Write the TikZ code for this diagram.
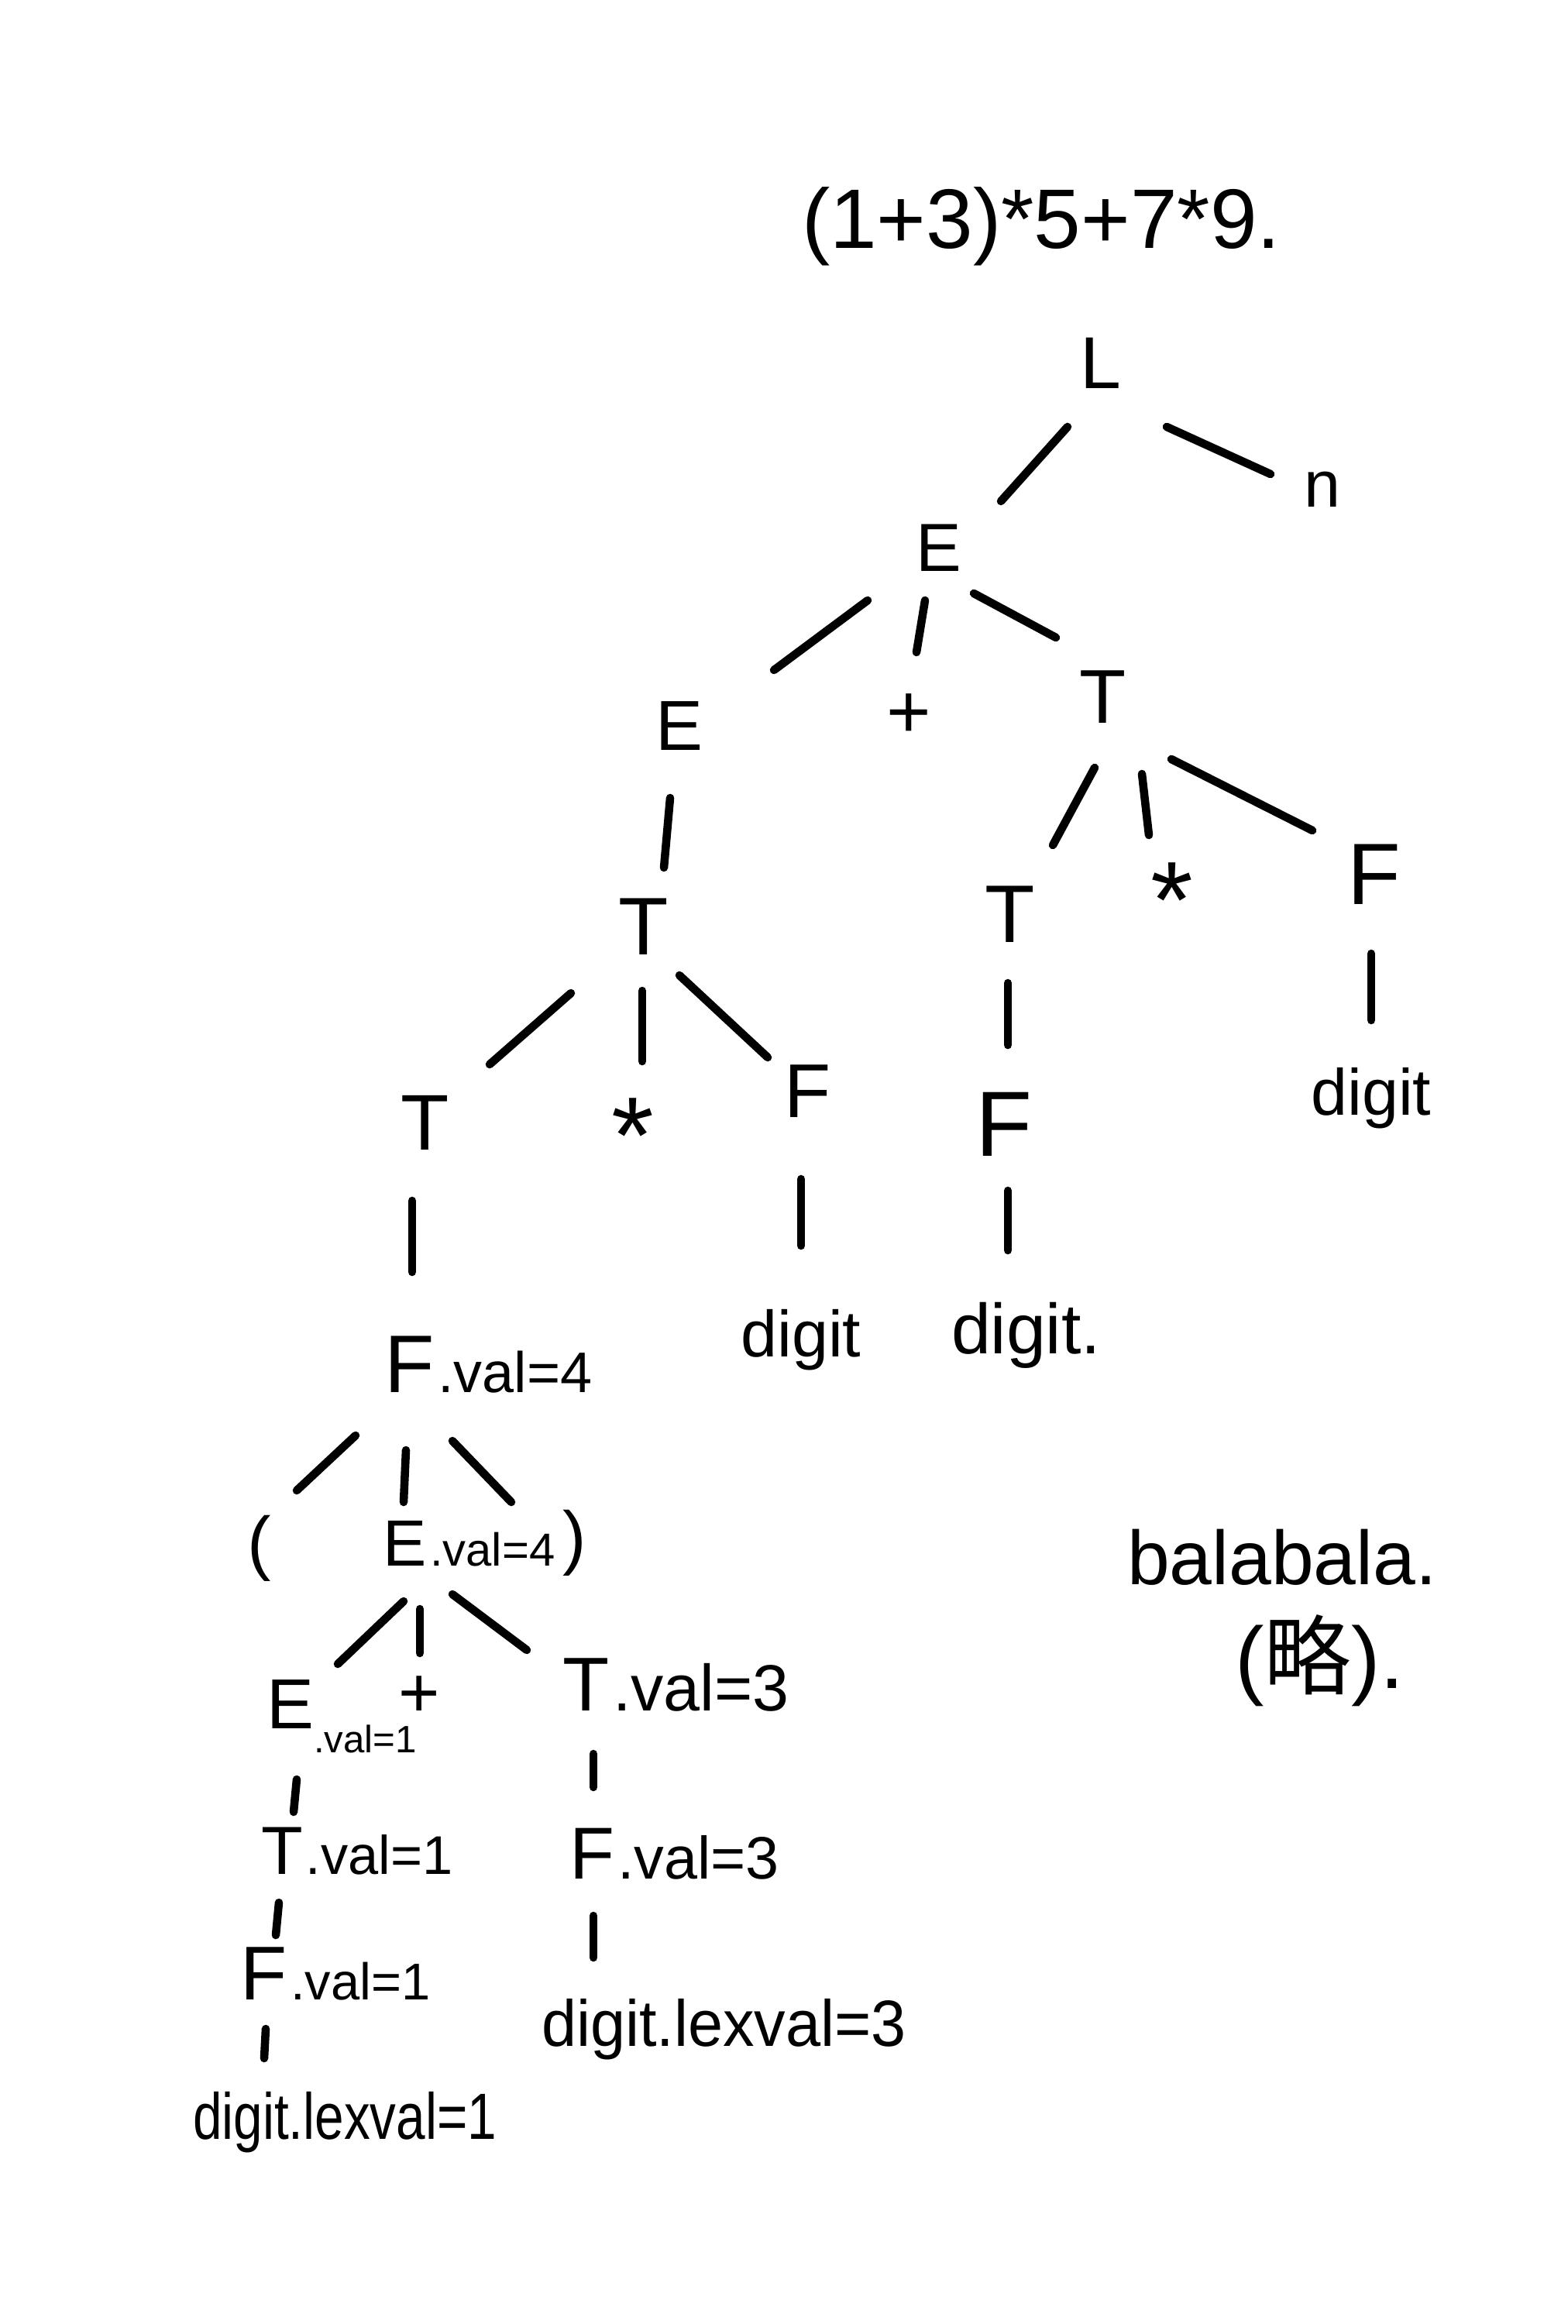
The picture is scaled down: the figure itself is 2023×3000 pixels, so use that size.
\documentclass[tikz,border=0pt]{standalone}
\usepackage{fontspec}
\setmainfont{Liberation Sans}
\newfontfamily\cjk{Noto Sans CJK SC}
\usetikzlibrary{calc}
\newcommand{\fsz}[1]{\fontsize{#1}{#1}\selectfont}
\begin{document}
\begin{tikzpicture}[x=0.01cm,y=-0.01cm,
  lbl/.style={inner sep=0pt, outer sep=0pt},
  annot/.style={inner sep=0pt, outer sep=0pt, anchor=base west},
  edge/.style={line width=3pt, line cap=round}]
\fill[white] (0,0) rectangle (2023,3000);
\useasboundingbox (0,0) rectangle (2023,3000);
% title
\node[lbl, anchor=west, font=\fsz{31}] (title) at (1035,292) {(1+3)*5+7*9.};
% tree nodes
\node[lbl, font=\fsz{27}] (L) at (1421,469) {L};
\node[lbl, font=\fsz{24}] (n) at (1707,632) {n};
\node[lbl, font=\fsz{25}] (E1) at (1212,707) {E};
\node[lbl, font=\fsz{26}] (E2) at (877,937) {E};
\node[lbl, font=\fsz{28}] (plus1) at (1173,924) {+};
\node[lbl, font=\fsz{28}] (T1) at (1424,900) {T};
\node[lbl, font=\fsz{30}] (T2) at (831,1196) {T};
\node[lbl, font=\fsz{30}] (T3) at (1304,1180) {T};
\node[lbl, font=\fsz{40}] (star1) at (1513,1162) {*};
\node[lbl, font=\fsz{32}] (F1) at (1774,1129) {F};
\node[lbl, font=\fsz{29}] (T4) at (549,1449) {T};
\node[lbl, font=\fsz{40}] (star2) at (817,1466) {*};
\node[lbl, font=\fsz{28}] (F2) at (1043,1409) {F};
\node[lbl, font=\fsz{34}] (F3) at (1296,1451) {F};
\node[lbl, font=\fsz{24}] (dg1) at (1770,1418) {digit};
\node[lbl, font=\fsz{30}] (Fv4) at (529,1761) {F};
\node[annot, font=\fsz{21}] (Fv4a) at ($(Fv4.base east)+(4,0)$) {.val=4};
\node[lbl, font=\fsz{24}] (dg2) at (1034,1730) {digit};
\node[lbl, font=\fsz{26}, anchor=west] (dg3) at (1228,1724) {digit.};
\node[lbl, font=\fsz{26}] (lp) at (335,1999) {(};
\node[lbl, font=\fsz{24}] (Ev4) at (523,1992) {E};
\node[annot, font=\fsz{17}] (Ev4a) at ($(Ev4.base east)+(4,0)$) {.val=4};
\node[lbl, font=\fsz{26}] (rp) at (742,1992) {)};
\node[lbl, font=\fsz{26}] (Ev1) at (375,2200) {E};
\node[annot, font=\fsz{14}] (Ev1a) at (405,2262) {.val=1};
\node[lbl, font=\fsz{26}] (plus2) at (541,2190) {+};
\node[lbl, font=\fsz{28}] (Tv3) at (757,2175) {T};
\node[annot, font=\fsz{24}] (Tv3a) at ($(Tv3.base east)+(4,0)$) {.val=3};
\node[lbl, font=\fsz{25}] (Tv1) at (364,2389) {T};
\node[annot, font=\fsz{20}] (Tv1a) at ($(Tv1.base east)+(4,0)$) {.val=1};
\node[lbl, font=\fsz{27}] (Fv3) at (764,2393) {F};
\node[annot, font=\fsz{22}] (Fv3a) at ($(Fv3.base east)+(4,0)$) {.val=3};
\node[lbl, font=\fsz{28}] (Fv1) at (341,2548) {F};
\node[annot, font=\fsz{19}] (Fv1a) at ($(Fv1.base east)+(4,0)$) {.val=1};
\node[lbl, font=\fsz{24}, anchor=west] (dl3) at (699,2620) {\scalebox{0.96}[1]{digit.lexval=3}};
\node[lbl, font=\fsz{24}, anchor=west] (dl1) at (249,2740) {\scalebox{0.8}[1]{digit.lexval=1}};
% side notes
\node[lbl, font=\fsz{28}, anchor=west] (bala) at (1455,2010) {balabala.};
\node[lbl, font=\fsz{32}, anchor=west] (lue) at (1594,2144) {({\cjk 略}).};
% edges
\draw[edge] ($(L)+(85,82)$) -- ($(n)+(-67,-20)$);
\draw[edge] ($(L)+(-43,82)$) -- ($(E1)+(80,-60)$);
\draw[edge] ($(E1)+(-92,68)$) -- ($(E2)+(122,-72)$);
\draw[edge] ($(E1)+(-18,68)$) -- ($(plus1)+(10,-82)$);
\draw[edge] ($(E1)+(45,59)$) -- ($(T1)+(-61,-77)$);
\draw[edge] ($(E2)+(-12,93)$) -- ($(T2)+(26,-76)$);
\draw[edge] ($(T1)+(-11,91)$) -- ($(T3)+(55,-89)$);
\draw[edge] ($(T1)+(50,99)$) -- ($(star1)+(-30,-84)$);
\draw[edge] ($(T1)+(88,80)$) -- ($(F1)+(-80,-57)$);
\draw[edge] ($(T2)+(-94,86)$) -- ($(T4)+(83,-75)$);
\draw[edge] ($(T2)+(-2,83)$) -- ($(star2)+(12,-96)$);
\draw[edge] ($(T2)+(46,63)$) -- ($(F2)+(-52,-44)$);
\draw[edge] ($(T3)+(-3,89)$) -- ($(F3)+(5,-102)$);
\draw[edge] ($(F1)+(-4,102)$) -- ($(dg1)+(0,-101)$);
\draw[edge] ($(T4)+(-17,101)$) -- ($(Fv4)+(3,-119)$);
\draw[edge] ($(F2)+(-9,113)$) -- ($(dg2)+(0,-122)$);
\draw[edge] ($(F3)+(5,86)$) -- ($(dg3.west)+(73,-110)$);
\draw[edge] ($(Fv4)+(-70,92)$) -- ($(lp)+(48,-75)$);
\draw[edge] ($(Fv4)+(-5,111)$) -- ($(Ev4)+(-2,-53)$);
\draw[edge] ($(Fv4)+(55,99)$) -- ($(rp)+(-82,-53)$);
\draw[edge] ($(Ev4)+(-2,75)$) -- ($(Ev1)+(61,-52)$);
\draw[edge] ($(Ev4)+(19,85)$) -- ($(plus2)+(1,-56)$);
\draw[edge] ($(Ev4)+(61,66)$) -- ($(Tv3)+(-77,-45)$);
\draw[edge] ($(Ev1)+(8,97)$) -- ($(Tv1)+(15,-50)$);
\draw[edge] ($(Tv1)+(-4,67)$) -- ($(Fv1)+(15,-50)$);
\draw[edge] ($(Fv1)+(2,71)$) -- ($(dl1.west)+(92,-83)$);
\draw[edge] ($(Tv3)+(9,89)$) -- ($(Fv3)+(2,-86)$);
\draw[edge] ($(Fv3)+(2,80)$) -- ($(dl3.west)+(67,-93)$);
\end{tikzpicture}
\end{document}
